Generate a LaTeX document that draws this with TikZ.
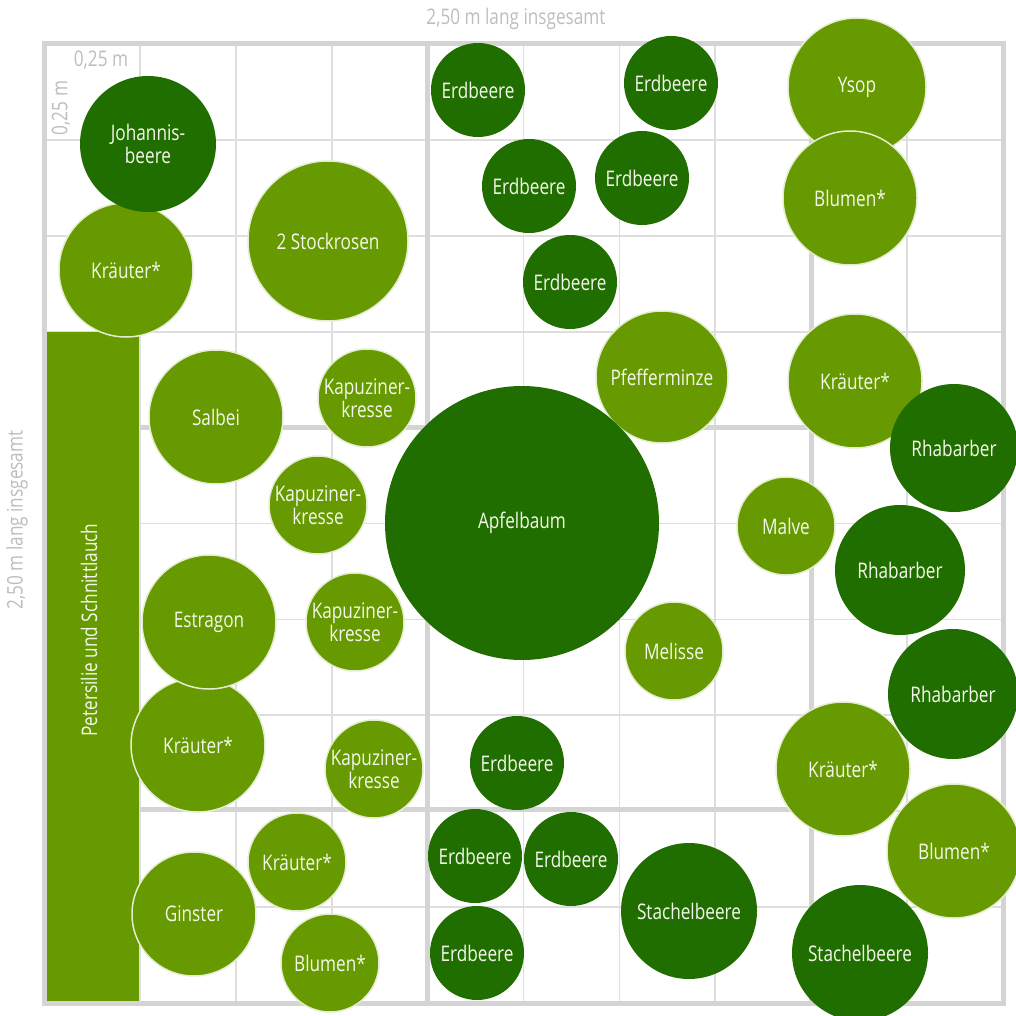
\documentclass[tikz,border=0pt]{standalone}
\usepackage{fontspec}
\setmainfont{Open Sans}[FakeStretch=0.8]
\definecolor{dk}{HTML}{216E00}
\definecolor{lt}{HTML}{669A00}
\definecolor{edgec}{HTML}{E4EDCF}
\definecolor{thinc}{HTML}{DEDEDE}
\definecolor{thickc}{HTML}{D4D4D4}
\definecolor{dimc}{HTML}{BDBDBD}
\definecolor{txtc}{HTML}{F4F8EC}
\begin{document}
\begin{tikzpicture}[x=1pt,y=-1pt,
  plant/.style={circle,inner sep=0pt,minimum size=#1,align=center,text=txtc,
    font=\fontsize{21.5}{23}\selectfont},
  darkp/.style={plant=#1,fill=dk},
  lightp/.style={plant=#1,fill=lt,draw=edgec,line width=1.5pt},
  gridthin/.style={draw=thinc,line width=1.8pt},
  gridthick/.style={draw=thickc,line width=5pt},
  dimtxt/.style={text=dimc,inner sep=0pt,font=\fontsize{21.5}{23}\selectfont}]
\useasboundingbox (0,0) rectangle (1016,1016);
% thin grid
\foreach \k in {1,...,9}{
  \draw[gridthin] ({44+95.9*\k},44) -- ({44+95.9*\k},1003);
  \draw[gridthin] (44,{44+95.9*\k}) -- (1003,{44+95.9*\k});
}
% thick bed borders
\draw[gridthick] (427.6,44) -- (427.6,1003);
\draw[gridthick] (811.2,44) -- (811.2,1003);
\draw[gridthick] (139.9,427.6) -- (811.2,427.6);
\draw[gridthick] (139.9,809.5) -- (811.2,809.5);
% parsley bar
\fill[lt] (44,331.7) rectangle (138.5,1003);
\node[rotate=90,text=txtc,font=\fontsize{21.5}{23}\selectfont] (pet) at (89,630) {Petersilie und Schnittlauch};
% frame
\draw[gridthick] (44,44) rectangle (1003,1003);
% dimension labels
\node[dimtxt] (dtop) at (516,19) {2,50 m lang insgesamt};
\node[dimtxt,rotate=90] (dleft) at (17,520) {2,50 m lang insgesamt};
\node[dimtxt] (qtop) at (101,60) {0,25 m};
\node[dimtxt,rotate=90] (qleft) at (61,108) {0,25 m};
% plants: light
\node[lightp=134] (kr1) at (126,270) {Kräuter*};
\node[lightp=160] (stock) at (328,241) {2 Stockrosen};
\node[lightp=138] (ysop) at (857,87) {Ysop};
\node[lightp=134] (blu1) at (850,198) {Blumen*};
\node[lightp=132] (pfef) at (662,377) {Pfefferminze};
\node[lightp=134] (kr2) at (855,381) {Kräuter*};
\node[lightp=134] (salb) at (216,417) {Salbei};
\node[lightp=98] (kap1) at (367,398) {Kapuziner-\\kresse};
\node[lightp=98] (kap2) at (318,505) {Kapuziner-\\kresse};
\node[lightp=134] (kr3) at (198,745) {Kräuter*};
\node[lightp=134] (estr) at (209,622) {Estragon};
\node[lightp=98] (kap3) at (355,622) {Kapuziner-\\kresse};
\node[lightp=98] (kap4) at (374,769) {Kapuziner-\\kresse};
\node[lightp=98] (malve) at (786,526) {Malve};
\node[lightp=98] (mel) at (674,651) {Melisse};
\node[lightp=134] (kr4) at (843,769) {Kräuter*};
\node[lightp=134] (blu2) at (954,851) {Blumen*};
\node[lightp=98] (kr5) at (297,862) {Kräuter*};
\node[lightp=124] (gin) at (194,914) {Ginster};
\node[lightp=98] (blu3) at (330,963) {Blumen*};
% plants: dark
\node[darkp=136] (joh) at (148,144) {Johannis-\\beere};
\node[darkp=94] (e1) at (478,90) {Erdbeere};
\node[darkp=94] (e2) at (529,186) {Erdbeere};
\node[darkp=94] (e3) at (671,83) {Erdbeere};
\node[darkp=94] (e4) at (642,178) {Erdbeere};
\node[darkp=94] (e5) at (570,282) {Erdbeere};
\node[darkp=274] (apfel) at (522,523) {Apfelbaum};
\node[darkp=128] (rh1) at (954,448) {Rhabarber};
\node[darkp=130] (rh2) at (900,570) {Rhabarber};
\node[darkp=130] (rh3) at (953,694) {Rhabarber};
\node[darkp=94] (e6) at (517,763) {Erdbeere};
\node[darkp=94] (e7) at (475,856) {Erdbeere};
\node[darkp=94] (e8) at (571,859) {Erdbeere};
\node[darkp=94] (e9) at (477,953) {Erdbeere};
\node[darkp=136] (st1) at (689,911) {Stachelbeere};
\node[darkp=136] (st2) at (860,953) {Stachelbeere};
\end{tikzpicture}
\end{document}
